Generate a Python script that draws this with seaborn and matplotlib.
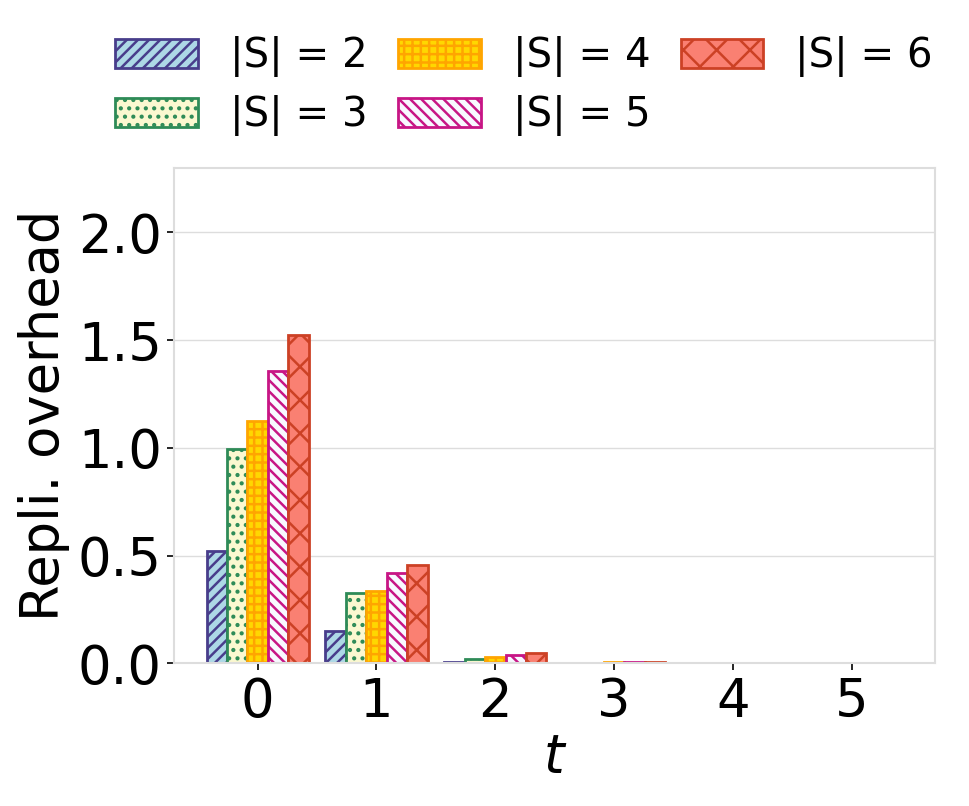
import matplotlib
matplotlib.use("Agg")
import matplotlib.pyplot as plt
from matplotlib.patches import Patch
import seaborn as sns
import pandas as pd

# values
t_values = [0, 1, 2, 3, 4, 5]
s2 = [0.52, 0.148, 0.007, 0.002, 0.001, 0.001]
s3 = [0.995, 0.325, 0.022, 0.003, 0.001, 0.001]
s4 = [1.125, 0.335, 0.030, 0.004, 0.001, 0.001]
s5 = [1.358, 0.418, 0.040, 0.005, 0.002, 0.001]
s6 = [1.525, 0.455, 0.048, 0.006, 0.002, 0.001]
labels = ["|S| = 2", "|S| = 3", "|S| = 4", "|S| = 5", "|S| = 6"]

faces = ["#add8e6", "#fbf8d0", "#ffd700", "#f8f8ff", "#fa8072"]
edges = ["#483d8b", "#2e8b57", "#ffa500", "#c71585", "#cc4125"]
hatches = ["///", "..", "++", "\\\\\\", "x"]

rows = []
for lab, vals in zip(labels, [s2, s3, s4, s5, s6]):
    for t, v in zip(t_values, vals):
        rows.append({"t": t, "S": lab, "val": v})
df = pd.DataFrame(rows)

sns.set_style("whitegrid")
plt.rcParams["hatch.linewidth"] = 1.8
plt.rcParams["text.color"] = "black"
plt.rcParams["axes.labelcolor"] = "black"
plt.rcParams["xtick.color"] = "black"
plt.rcParams["ytick.color"] = "black"

fig = plt.figure(figsize=(9.69, 8.06), dpi=100)
ax = fig.add_axes([0.18, 0.177, 0.785, 0.615])

sns.barplot(data=df, x="t", y="val", hue="S", hue_order=labels,
            palette=faces, width=0.86, ax=ax, legend=False, saturation=1)

for cont, ec, h in zip(ax.containers, edges, hatches):
    for p in cont:
        p.set_edgecolor(ec)
        p.set_hatch(h)
        p.set_linewidth(2)

ax.set_ylim(0, 2.3)
ax.set_xlim(-0.7, 5.7)
ax.set_yticks([0, 0.5, 1.0, 1.5, 2.0])
ax.set_yticklabels(["0.0", "0.5", "1.0", "1.5", "2.0"])
ax.tick_params(axis="both", labelsize=38, length=5, width=1.2,
               bottom=True, left=True, pad=4)
ax.grid(axis="x", visible=False)
ax.grid(axis="y", color="#dddddd", linewidth=1)
for sp in ax.spines.values():
    sp.set_color("#dddddd")
    sp.set_linewidth(1.5)
ax.set_xlabel("$t$", fontsize=38, labelpad=2)
ax.set_ylabel("Repli. overhead", fontsize=38, labelpad=6)

handles = [Patch(facecolor=f, edgecolor=e, hatch=h, linewidth=2)
           for f, e, h in zip(faces, edges, hatches)]
fig.legend(handles=handles, labels=labels, loc="upper center",
           bbox_to_anchor=(0.541, 1.0), ncol=3, frameon=False, fontsize=29,
           handlelength=2.05, handleheight=0.74, handletextpad=0.8,
           columnspacing=0.75, labelspacing=0.45)

fig.savefig("out.png", dpi=100)
